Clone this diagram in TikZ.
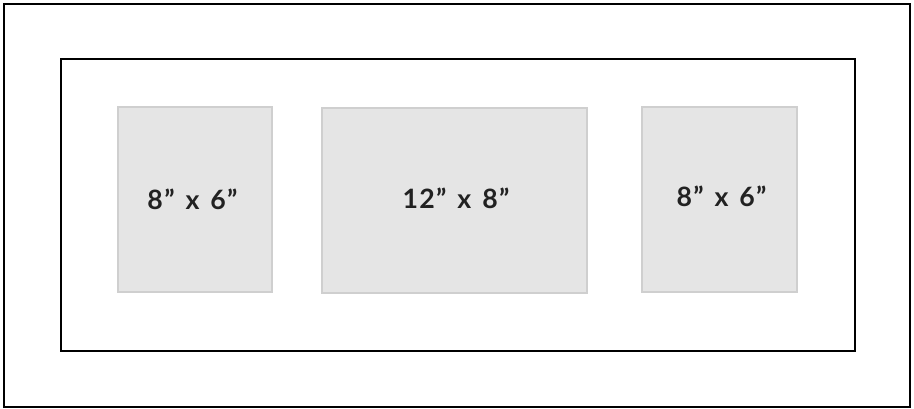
\documentclass[tikz,border=0pt]{standalone}
\usepackage{fontspec}
\setmainfont{Lato}
\newfontfamily\labelfont[LetterSpace=5, WordSpace=1.4]{Lato}
\definecolor{matgray}{HTML}{E5E5E5}
\definecolor{matedge}{HTML}{CFCFCF}
\definecolor{labelink}{HTML}{222222}
\begin{document}
\begin{tikzpicture}[x=0.75pt, y=-0.75pt,
    frame/.style={draw=black, line width=1.5pt},
    opening/.style={rectangle, draw=matedge, fill=matgray, line width=1.5pt, inner sep=0pt},
    size/.style={font=\labelfont\fontsize{20}{22}\selectfont\bfseries, text=labelink}]
    \useasboundingbox (0,0) rectangle (914,409);
    \draw[frame] (4,4) rectangle (910,407);
    \draw[frame] (61,59) rectangle (855,351);
    \node[opening, minimum width=154*0.75pt, minimum height=185*0.75pt] (left) at (195,199.5) {};
    \node[opening, minimum width=265*0.75pt, minimum height=185*0.75pt] (mid) at (454.5,200.5) {};
    \node[opening, minimum width=155*0.75pt, minimum height=185*0.75pt] (right) at (719.5,199.5) {};
    \node[size] (leftlabel) at (192.5,199) {8” x 6”};
    \node[size] (midlabel) at (456,198) {12” x 8”};
    \node[size] (rightlabel) at (721.5,196.5) {8” x 6”};
\end{tikzpicture}
\end{document}
